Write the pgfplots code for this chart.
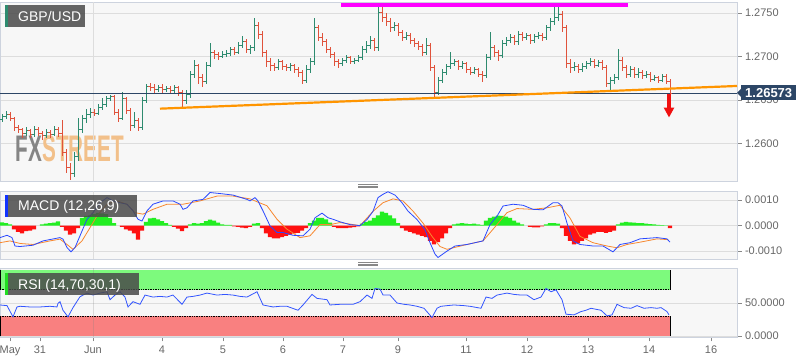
\documentclass[border=0pt]{standalone}
\usepackage{pgfplots}
\pgfplotsset{compat=1.18}
\usepackage{pgfplotstable}
\usepackage{fontspec}
\setmainfont{Liberation Sans}
\usepackage{graphicx}
\usetikzlibrary{arrows.meta}

\definecolor{panelbg}{HTML}{F7F7F7}
\definecolor{framecol}{HTML}{CDD3DE}
\definecolor{gridcol}{HTML}{DDDDDD}
\definecolor{tickcol}{HTML}{888888}
\definecolor{lblcol}{HTML}{666666}
\definecolor{upc}{HTML}{2E8B6F}
\definecolor{downc}{HTML}{E0533C}
\definecolor{macdblue}{HTML}{2A48FF}
\definecolor{signalc}{HTML}{F7882F}
\definecolor{histgreen}{HTML}{22EE22}
\definecolor{histred}{HTML}{FF1111}
\definecolor{rsiblue}{HTML}{3355FF}
\definecolor{rsigreen}{HTML}{7DFA7D}
\definecolor{rsired}{HTML}{F98080}
\definecolor{navyc}{HTML}{2C4666}
\definecolor{trendc}{HTML}{FF9500}
\definecolor{magentac}{HTML}{FF00FF}
\definecolor{arrowred}{HTML}{F01010}
\definecolor{boxgray}{HTML}{4A4A4A}
\definecolor{gbpgreen}{HTML}{2E8B6F}
\definecolor{stripeblue}{HTML}{1133FF}
\definecolor{stripegreen}{HTML}{22DD22}
\definecolor{wmgray}{HTML}{858585}
\definecolor{wmorange}{HTML}{F2C08A}
\definecolor{handlecol}{HTML}{888888}

\pgfdeclareplotmark{otick}{\pgfpathmoveto{\pgfqpoint{-1.7pt}{0pt}}\pgfpathlineto{\pgfqpoint{0pt}{0pt}}\pgfusepathqstroke}
\pgfdeclareplotmark{ctick}{\pgfpathmoveto{\pgfqpoint{0pt}{0pt}}\pgfpathlineto{\pgfqpoint{1.7pt}{0pt}}\pgfusepathqstroke}

\pgfplotstableread{
x o h l c
2 1.2628 1.2634 1.2625 1.2631
6 1.2631 1.2638 1.2628 1.2633
26 1.2612 1.2619 1.2609 1.2615
34 1.2610 1.2620 1.2608 1.2616
46 1.2609 1.2617 1.2606 1.2613
54 1.2611 1.2620 1.2609 1.2616
74 1.2566 1.2590 1.2562 1.2585
78 1.2585 1.2630 1.2580 1.2616
82 1.2616 1.2633 1.2612 1.2629
86 1.2629 1.2640 1.2624 1.2633
90 1.2633 1.2641 1.2630 1.2636
98 1.2635 1.2645 1.2633 1.2641
102 1.2641 1.2652 1.2639 1.2645
106 1.2645 1.2655 1.2642 1.2652
110 1.2652 1.2656 1.2649 1.2654
122 1.2629 1.2659 1.2627 1.2652
134 1.2621 1.2636 1.2618 1.2627
142 1.2618 1.2654 1.2616 1.2650
146 1.2650 1.2669 1.2647 1.2666
158 1.2662 1.2667 1.2659 1.2664
166 1.2662 1.2666 1.2659 1.2663
174 1.2661 1.2667 1.2658 1.2664
186 1.2650 1.2662 1.2645 1.2656
190 1.2656 1.2684 1.2653 1.2679
194 1.2679 1.2696 1.2675 1.2690
206 1.2671 1.2694 1.2668 1.2690
210 1.2690 1.2716 1.2688 1.2705
222 1.2700 1.2706 1.2698 1.2703
226 1.2703 1.2708 1.2700 1.2704
230 1.2704 1.2711 1.2701 1.2708
238 1.2705 1.2717 1.2703 1.2713
242 1.2713 1.2724 1.2710 1.2717
250 1.2708 1.2714 1.2703 1.2710
254 1.2710 1.2745 1.2706 1.2736
278 1.2687 1.2697 1.2685 1.2694
290 1.2687 1.2693 1.2684 1.2690
306 1.2673 1.2690 1.2670 1.2685
310 1.2685 1.2698 1.2681 1.2694
314 1.2694 1.2744 1.2690 1.2733
342 1.2692 1.2699 1.2689 1.2696
346 1.2696 1.2702 1.2693 1.2699
354 1.2695 1.2699 1.2692 1.2696
358 1.2696 1.2702 1.2694 1.2699
362 1.2699 1.2712 1.2696 1.2708
366 1.2708 1.2718 1.2704 1.2713
370 1.2713 1.2724 1.2709 1.2719
378 1.2710 1.2760 1.2706 1.2751
394 1.2733 1.2740 1.2729 1.2736
406 1.2722 1.2728 1.2719 1.2724
426 1.2705 1.2722 1.2702 1.2713
438 1.2659 1.2677 1.2656 1.2673
442 1.2673 1.2686 1.2670 1.2682
446 1.2682 1.2692 1.2679 1.2689
450 1.2689 1.2705 1.2686 1.2692
454 1.2692 1.2697 1.2689 1.2694
462 1.2689 1.2695 1.2686 1.2692
474 1.2682 1.2688 1.2680 1.2685
486 1.2678 1.2703 1.2676 1.2699
490 1.2699 1.2728 1.2696 1.2710
502 1.2701 1.2719 1.2699 1.2715
506 1.2715 1.2723 1.2712 1.2719
510 1.2719 1.2726 1.2716 1.2722
518 1.2717 1.2729 1.2714 1.2725
526 1.2722 1.2727 1.2719 1.2724
534 1.2719 1.2726 1.2716 1.2723
538 1.2723 1.2728 1.2720 1.2724
546 1.2722 1.2737 1.2719 1.2733
550 1.2733 1.2745 1.2730 1.2740
554 1.2740 1.2760 1.2736 1.2745
558 1.2745 1.2760 1.2741 1.2749
574 1.2687 1.2694 1.2684 1.2689
582 1.2685 1.2693 1.2682 1.2689
586 1.2689 1.2695 1.2686 1.2692
590 1.2692 1.2699 1.2689 1.2694
598 1.2690 1.2696 1.2688 1.2693
610 1.2669 1.2677 1.2662 1.2673
614 1.2673 1.2680 1.2668 1.2676
618 1.2676 1.2709 1.2673 1.2696
630 1.2680 1.2689 1.2677 1.2685
638 1.2679 1.2687 1.2676 1.2682
646 1.2678 1.2683 1.2675 1.2680
654 1.2674 1.2679 1.2672 1.2676
662 1.2673 1.2680 1.2671 1.2677
}\upbars

\pgfplotstableread{
x o h l c
10 1.2633 1.2636 1.2626 1.2629
14 1.2629 1.2631 1.2614 1.2618
18 1.2618 1.2621 1.2612 1.2616
22 1.2616 1.2618 1.2607 1.2612
30 1.2615 1.2617 1.2606 1.2610
38 1.2616 1.2619 1.2609 1.2612
42 1.2612 1.2614 1.2604 1.2609
50 1.2613 1.2616 1.2607 1.2611
58 1.2616 1.2619 1.2608 1.2612
62 1.2612 1.2627 1.2586 1.2590
66 1.2590 1.2594 1.2566 1.2572
70 1.2572 1.2578 1.2558 1.2566
94 1.2636 1.2640 1.2632 1.2635
114 1.2654 1.2656 1.2633 1.2636
118 1.2636 1.2640 1.2625 1.2629
126 1.2652 1.2654 1.2634 1.2638
130 1.2638 1.2641 1.2615 1.2621
138 1.2627 1.2630 1.2614 1.2618
150 1.2666 1.2670 1.2660 1.2664
154 1.2664 1.2668 1.2658 1.2662
162 1.2664 1.2668 1.2658 1.2662
170 1.2663 1.2666 1.2657 1.2661
178 1.2664 1.2666 1.2655 1.2659
182 1.2659 1.2662 1.2642 1.2650
198 1.2690 1.2692 1.2668 1.2676
202 1.2676 1.2680 1.2665 1.2671
214 1.2705 1.2708 1.2697 1.2702
218 1.2702 1.2705 1.2696 1.2700
234 1.2708 1.2711 1.2702 1.2705
246 1.2717 1.2720 1.2704 1.2708
258 1.2736 1.2740 1.2720 1.2725
262 1.2725 1.2730 1.2700 1.2705
266 1.2705 1.2708 1.2688 1.2694
270 1.2694 1.2698 1.2684 1.2690
274 1.2690 1.2693 1.2683 1.2687
282 1.2694 1.2696 1.2685 1.2689
286 1.2689 1.2692 1.2683 1.2687
294 1.2690 1.2692 1.2681 1.2685
298 1.2685 1.2688 1.2677 1.2682
302 1.2682 1.2685 1.2669 1.2673
318 1.2733 1.2737 1.2718 1.2722
322 1.2722 1.2727 1.2712 1.2717
326 1.2717 1.2720 1.2704 1.2708
330 1.2708 1.2711 1.2698 1.2702
334 1.2702 1.2705 1.2689 1.2694
338 1.2694 1.2697 1.2687 1.2692
350 1.2699 1.2701 1.2692 1.2695
374 1.2719 1.2722 1.2706 1.2710
382 1.2751 1.2758 1.2740 1.2745
386 1.2745 1.2750 1.2735 1.2740
390 1.2740 1.2744 1.2728 1.2733
398 1.2736 1.2739 1.2724 1.2728
402 1.2728 1.2731 1.2718 1.2722
410 1.2724 1.2727 1.2715 1.2719
414 1.2719 1.2722 1.2711 1.2715
418 1.2715 1.2718 1.2708 1.2712
422 1.2712 1.2715 1.2701 1.2705
430 1.2713 1.2716 1.2683 1.2687
434 1.2687 1.2690 1.2654 1.2659
458 1.2694 1.2696 1.2685 1.2689
466 1.2692 1.2694 1.2681 1.2685
470 1.2685 1.2688 1.2679 1.2682
478 1.2685 1.2687 1.2677 1.2680
482 1.2680 1.2683 1.2671 1.2678
494 1.2710 1.2713 1.2700 1.2705
498 1.2705 1.2708 1.2695 1.2701
514 1.2722 1.2725 1.2713 1.2717
522 1.2725 1.2728 1.2718 1.2722
530 1.2724 1.2726 1.2715 1.2719
542 1.2724 1.2727 1.2718 1.2722
562 1.2749 1.2752 1.2728 1.2733
566 1.2733 1.2736 1.2687 1.2692
570 1.2692 1.2697 1.2681 1.2687
578 1.2689 1.2692 1.2681 1.2685
594 1.2694 1.2697 1.2687 1.2690
602 1.2693 1.2696 1.2685 1.2688
606 1.2688 1.2690 1.2665 1.2669
622 1.2696 1.2700 1.2683 1.2687
626 1.2687 1.2690 1.2675 1.2680
634 1.2685 1.2688 1.2675 1.2679
642 1.2682 1.2685 1.2674 1.2678
650 1.2680 1.2682 1.2671 1.2674
658 1.2676 1.2678 1.2670 1.2673
666 1.2677 1.2680 1.2668 1.2671
670 1.2671 1.2674 1.2655 1.26573
}\downbars

\pgfplotsset{
  panel/.style={
    scale only axis, width=737pt, xmin=0, xmax=737,
    axis background/.style={fill=panelbg},
    axis line style={framecol, line width=0.8pt},
    ytick pos=right, yticklabel pos=right,
    tick align=outside, major tick length=4.5pt,
    tick style={tickcol, line width=0.6pt},
    ymajorgrids, grid style={gridcol, line width=0.8pt},
    scaled y ticks=false,
    yticklabel style={font=\fontsize{11}{13}\selectfont, text=lblcol},
    /pgf/number format/fixed,
    /pgf/number format/fixed zerofill,
    /pgf/number format/precision=4,
    /pgf/number format/assume math mode=true,
  },
  ohlc/.style={only marks, mark options={line width=1pt},
    error bars/.cd, y dir=both, y explicit, error mark=none,
    error bar style={line width=1pt, color=#1}},
}

\begin{document}
\begin{tikzpicture}
\useasboundingbox (0,0) rectangle (808pt,363pt);

% ---------------- main price panel ----------------
\begin{axis}[panel, at={(0pt,182pt)}, anchor=south west, height=179pt,
  ymin=1.2557, ymax=1.27629, ytick={1.26,1.265,1.27,1.275}, xtick=\empty, clip=false]
\node at (axis cs:70,1.25944) {\scalebox{0.56}[1]{\fontsize{37}{37}\selectfont\bfseries\textcolor{wmgray}{FX}\textcolor{wmorange}{STREET}}};
\addplot[gridcol, line width=0.8pt] coordinates {(93,1.2557) (93,1.27629)};
\addplot[upc, mark=otick, ohlc=upc] table[x=x, y=o, y error plus expr=\thisrow{h}-\thisrow{o}, y error minus expr=\thisrow{o}-\thisrow{l}] {\upbars};
\addplot[upc, only marks, mark=ctick, mark options={line width=1pt}] table[x=x, y=c] {\upbars};
\addplot[downc, mark=otick, ohlc=downc] table[x=x, y=o, y error plus expr=\thisrow{h}-\thisrow{o}, y error minus expr=\thisrow{o}-\thisrow{l}] {\downbars};
\addplot[downc, only marks, mark=ctick, mark options={line width=1pt}] table[x=x, y=c] {\downbars};
\addplot[navyc, line width=0.9pt] coordinates {(0,1.26573) (737,1.26573)};
\addplot[trendc, line width=2.2pt] coordinates {(160,1.26402) (737,1.26663)};
\addplot[magentac, line width=4pt] coordinates {(341,1.27594) (628,1.27594)};
\draw[arrowred, line width=3.6pt, -{Triangle[width=10pt,length=10pt]}] (axis cs:669,1.26565) -- (axis cs:669,1.26300);
\coordinate (pricept) at (axis cs:737,1.26573);
\end{axis}

% ---------------- MACD panel ----------------
\begin{axis}[panel, at={(0pt,104pt)}, anchor=south west, height=68pt,
  ymin=-0.00131, ymax=0.00136, ytick={-0.001,0,0.001}, xtick=\empty]
\addplot[gridcol, line width=0.8pt] coordinates {(93,-0.00131) (93,0.00136)};
\addplot[ybar, bar width=4.1pt, bar shift=0pt, fill=histgreen, draw=none] coordinates {
(2,0.00013)(6,0.0001)(10,0.00005)(42,0.00005)(46,0.00008)(50,0.0001)(54,0.00012)(58,0.00017)
(82,0.0003)(86,0.00038)(90,0.0004)(94,0.00045)(98,0.0005)(102,0.00048)(106,0.00045)(110,0.0003)(114,0.0001)
(146,0.00015)(150,0.00028)(154,0.0003)(158,0.00025)(162,0.00018)(166,0.0001)(170,0.00003)
(190,0.00005)(194,0.0001)(198,0.00008)(202,0.0001)(206,0.00018)(210,0.00024)(214,0.0002)(218,0.00012)(222,0.00005)(226,0.00003)(230,0.00003)
(254,0.00008)(258,0.0001)
(310,0.0001)(314,0.0002)(318,0.0003)(322,0.0003)(326,0.00025)(330,0.00012)
(362,0.00008)(366,0.00015)(370,0.0002)(374,0.0003)(378,0.0004)(382,0.00055)(386,0.0005)(390,0.0004)(394,0.00028)(398,0.0001)
(454,0.00005)(458,0.00008)(462,0.0001)(466,0.00008)(470,0.00006)(474,0.00008)(478,0.00005)(482,0.00003)
(486,0.0002)(490,0.0003)(494,0.00035)(498,0.00039)(502,0.00038)(506,0.00035)(510,0.0003)(514,0.0002)(518,0.00012)(522,0.00005)
(546,0.00005)(550,0.0001)(554,0.0001)(558,0.00008)
(618,0.00005)(622,0.00012)(626,0.00015)(630,0.00013)(634,0.00012)(638,0.0001)(642,0.0001)(646,0.00008)(650,0.00006)(654,0.00005)(658,0.00003)(662,0.00002)(666,0.00001)};
\addplot[ybar, bar width=4.1pt, bar shift=0pt, fill=histred, draw=none] coordinates {
(14,-0.00015)(18,-0.00025)(22,-0.0003)(26,-0.00022)(30,-0.0002)(34,-0.00015)
(62,-0.00005)(66,-0.0002)(70,-0.00035)(74,-0.0003)(78,-0.0001)
(122,-0.00005)(126,-0.00015)(130,-0.0002)(134,-0.0003)(138,-0.00055)(142,-0.0002)
(174,-0.00005)(178,-0.00012)(182,-0.00022)(186,-0.0001)
(234,-0.00003)(238,-0.00005)(242,-0.00008)(246,-0.0001)(250,-0.00005)
(262,-0.0001)(266,-0.0003)(270,-0.00045)(274,-0.0005)(278,-0.0005)(282,-0.00045)(286,-0.0004)(290,-0.00035)(294,-0.0003)(298,-0.00028)(302,-0.0002)(306,-0.0001)
(334,-0.00005)(338,-0.0001)(342,-0.0001)(346,-0.0001)(350,-0.00008)(354,-0.00006)(358,-0.00003)
(402,-0.0001)(406,-0.0002)(410,-0.00025)(414,-0.0003)(418,-0.00035)(422,-0.0004)(426,-0.00045)(430,-0.0006)(434,-0.00074)(438,-0.00065)(442,-0.0005)(446,-0.0003)(450,-0.0001)
(530,-0.00005)(534,-0.00007)(538,-0.00007)(542,-0.00003)
(562,-0.0001)(566,-0.0004)(570,-0.0006)(574,-0.00074)(578,-0.0007)(582,-0.0006)(586,-0.0005)(590,-0.00035)(594,-0.0003)(598,-0.00025)(602,-0.00025)(606,-0.00028)(610,-0.00025)(614,-0.0002)
(670,-0.0001)};
\addplot[signalc, line width=0.8pt] coordinates {
(0,-0.00067)(10,-0.0006)(20,-0.0007)(33,-0.00074)(50,-0.0006)(60,-0.00053)(67,-0.00074)(73,-0.00093)(82,-0.0006)(90,-0.00008)(97,0.00038)(107,0.00084)(117,0.00097)(127,0.00084)(135,0.00051)(143,0.00045)(153,0.00064)(167,0.00084)(183,0.00084)(200,0.00097)(217,0.00116)(233,0.00116)(250,0.00105)(267,0.00078)(277,0.00025)(287,-0.00014)(300,-0.00047)(310,-0.0004)(320,0.00004)(330,0.00004)(340,0.00012)(360,0)(373,0.00056)(383,0.0009)(393,0.00105)(403,0.00097)(413,0.00057)(423,0.0001)(432,-0.00042)(440,-0.00082)(447,-0.00093)(467,-0.00074)(483,-0.0006)(497,0.00004)(507,0.00051)(517,0.00067)(533,0.00064)(547,0.0007)(560,0.0008)(570,0.0003)(580,-0.00042)(593,-0.00067)(607,-0.0008)(617,-0.00087)(627,-0.00074)(640,-0.00065)(657,-0.00052)(668,-0.00055)};
\addplot[macdblue, line width=0.8pt] coordinates {
(0,-0.00047)(7,-0.00038)(12,-0.00047)(15,-0.0008)(20,-0.00082)(33,-0.00077)(43,-0.0006)(60,-0.00047)(63,-0.00053)(67,-0.00086)(71,-0.00103)(75,-0.00086)(80,-0.0004)(87,0.00025)(93,0.00051)(100,0.0009)(107,0.0011)(113,0.00097)(120,0.0009)(127,0.00084)(133,0.00058)(138,0.00025)(142,0.00018)(147,0.00058)(153,0.00084)(163,0.00097)(173,0.00097)(180,0.00084)(183,0.00064)(187,0.0007)(193,0.00097)(203,0.00103)(210,0.0013)(220,0.00126)(233,0.0012)(247,0.00103)(250,0.00097)(255,0.0011)(258,0.00097)(263,0.00058)(270,-0.00001)(277,-0.00027)(283,-0.00027)(293,-0.00038)(303,-0.0004)(310,-0.00014)(315,0.00031)(322,0.00049)(328,0.00031)(333,0.00025)(340,0.00015)(350,0.00004)(360,0)(367,0.00024)(373,0.00056)(378,0.0011)(383,0.00123)(388,0.00133)(395,0.0012)(402,0.0009)(408,0.00057)(417,0.00024)(425,-0.00016)(430,-0.00067)(435,-0.00112)(438,-0.00125)(447,-0.001)(455,-0.0008)(467,-0.00074)(483,-0.0006)(490,0.00004)(497,0.00037)(503,0.00077)(513,0.00084)(523,0.0008)(533,0.00064)(543,0.00062)(553,0.0009)(558,0.0009)(562,0.00077)(567,0.0001)(573,-0.0006)(580,-0.00074)(593,-0.0008)(603,-0.0008)(613,-0.00103)(620,-0.00074)(630,-0.00067)(640,-0.00052)(657,-0.00047)(667,-0.00052)(670,-0.00065)};
\end{axis}

% ---------------- RSI panel ----------------
\begin{axis}[panel, at={(0pt,26pt)}, anchor=south west, height=69pt,
  ymin=-1.5, ymax=103, ytick={0,50},
  xtick={10,40,93,162,223,283,343,398,466,527,588,649,711},
  xticklabels={May,31,Jun,4,5,6,7,9,11,12,13,14,16},
  xtick pos=bottom,
  xticklabel style={font=\fontsize{11}{13}\selectfont, text=lblcol, yshift=-1pt}]
\addplot[fill=rsigreen, draw=none] coordinates {(0,70) (670,70) (670,100) (0,100)} -- cycle;
\addplot[fill=rsired, draw=none] coordinates {(0,0) (670,0) (670,30) (0,30)} -- cycle;
\addplot[black, densely dotted, line width=0.7pt] coordinates {(0,70) (670,70)};
\addplot[black, densely dotted, line width=0.7pt] coordinates {(0,30) (670,30)};
\addplot[black, line width=0.8pt] coordinates {(670,70) (670,100)};
\addplot[black, line width=0.8pt] coordinates {(670,0) (670,30)};
\addplot[black, line width=0.8pt] coordinates {(0.5,70) (0.5,100)};
\addplot[black, line width=0.8pt] coordinates {(0.5,0) (0.5,30)};
\addplot[gray, opacity=0.25, line width=0.8pt] coordinates {(93,-1.5) (93,103)};
\addplot[rsiblue, line width=0.8pt] coordinates {
(0,47)(7,46)(13,29)(17,44)(20,45)(30,44)(40,44)(50,45)(57,44)(58,49.5)(60,52)(63,39)(68,29)(73,43)(80,59.5)(87,65)(93,62)(100,65)(107,67)(110,55)(115,62)(120,67)(125,59)(128,44)(133,52)(140,48)(145,62)(153,59)(160,60)(167,59)(173,62)(182,48)(187,59)(193,60)(200,62)(207,65)(217,62)(225,63)(233,62)(240,60)(247,59)(257,67)(263,47)(273,44)(280,45)(287,45)(298,39)(303,47)(312,63)(317,57)(327,55)(330,47)(340,48)(353,48)(360,52)(367,62)(372,57)(375,72)(380,71)(383,62)(390,62)(397,50)(404,48)(410,47)(417,45)(424,42)(432,28)(437,42)(441,45)(447,46)(454,47)(464,46)(470,45)(481,42)(486,59)(492,57)(497,62)(507,65)(514,63)(521,62)(527,62)(534,55)(541,59)(546,72)(551,67)(556,70)(562,55)(566,33)(574,32)(581,37)(586,39)(591,42)(601,39)(607,30.5)(612,32)(617,48)(624,43)(631,42)(637,46)(644,42)(651,43)(657,42)(661,43)(667,37)(669,32)};
\end{axis}

% ---------------- overlays ----------------
\node[fill=navyc, text=white, font=\fontsize{13}{13}\selectfont\bfseries, inner xsep=4pt, inner ysep=0pt, minimum height=15pt, anchor=west] (pbox) at ([xshift=4pt,yshift=1pt]pricept) {1.26573};
\fill[navyc] ([xshift=-4pt]pbox.west) -- ([yshift=4pt]pbox.west) -- ([yshift=-4pt]pbox.west) -- cycle;

\fill[boxgray, opacity=0.85] (5pt,336pt) rectangle (85pt,358pt);
\fill[gbpgreen] (5pt,336pt) rectangle (8pt,358pt);
\node[anchor=base west, text=white, font=\fontsize{14}{14}\selectfont, inner sep=0pt] at (18pt,341.3pt) {GBP/USD};

\fill[boxgray, opacity=0.85] (5pt,146pt) rectangle (137pt,168pt);
\fill[stripeblue] (5pt,146pt) rectangle (8pt,168pt);
\node[anchor=base west, text=white, font=\fontsize{14}{14}\selectfont, inner sep=0pt] at (18pt,152pt) {MACD (12,26,9)};

\fill[boxgray, opacity=0.85] (5pt,68pt) rectangle (139pt,90pt);
\fill[stripegreen] (5pt,68pt) rectangle (8pt,90pt);
\node[anchor=base west, text=white, font=\fontsize{14}{14}\selectfont, inner sep=0pt] at (18pt,73.5pt) {RSI (14,70,30,1)};

\draw[handlecol, line width=0.5pt] (358pt,175.5pt) -- (378pt,175.5pt);
\draw[handlecol, line width=0.5pt] (358pt,177.2pt) -- (378pt,177.2pt);
\draw[handlecol, line width=0.5pt] (358pt,178.9pt) -- (378pt,178.9pt);
\draw[handlecol, line width=0.5pt] (358pt,97.5pt) -- (378pt,97.5pt);
\draw[handlecol, line width=0.5pt] (358pt,99.2pt) -- (378pt,99.2pt);
\draw[handlecol, line width=0.5pt] (358pt,100.9pt) -- (378pt,100.9pt);
\end{tikzpicture}
\end{document}
